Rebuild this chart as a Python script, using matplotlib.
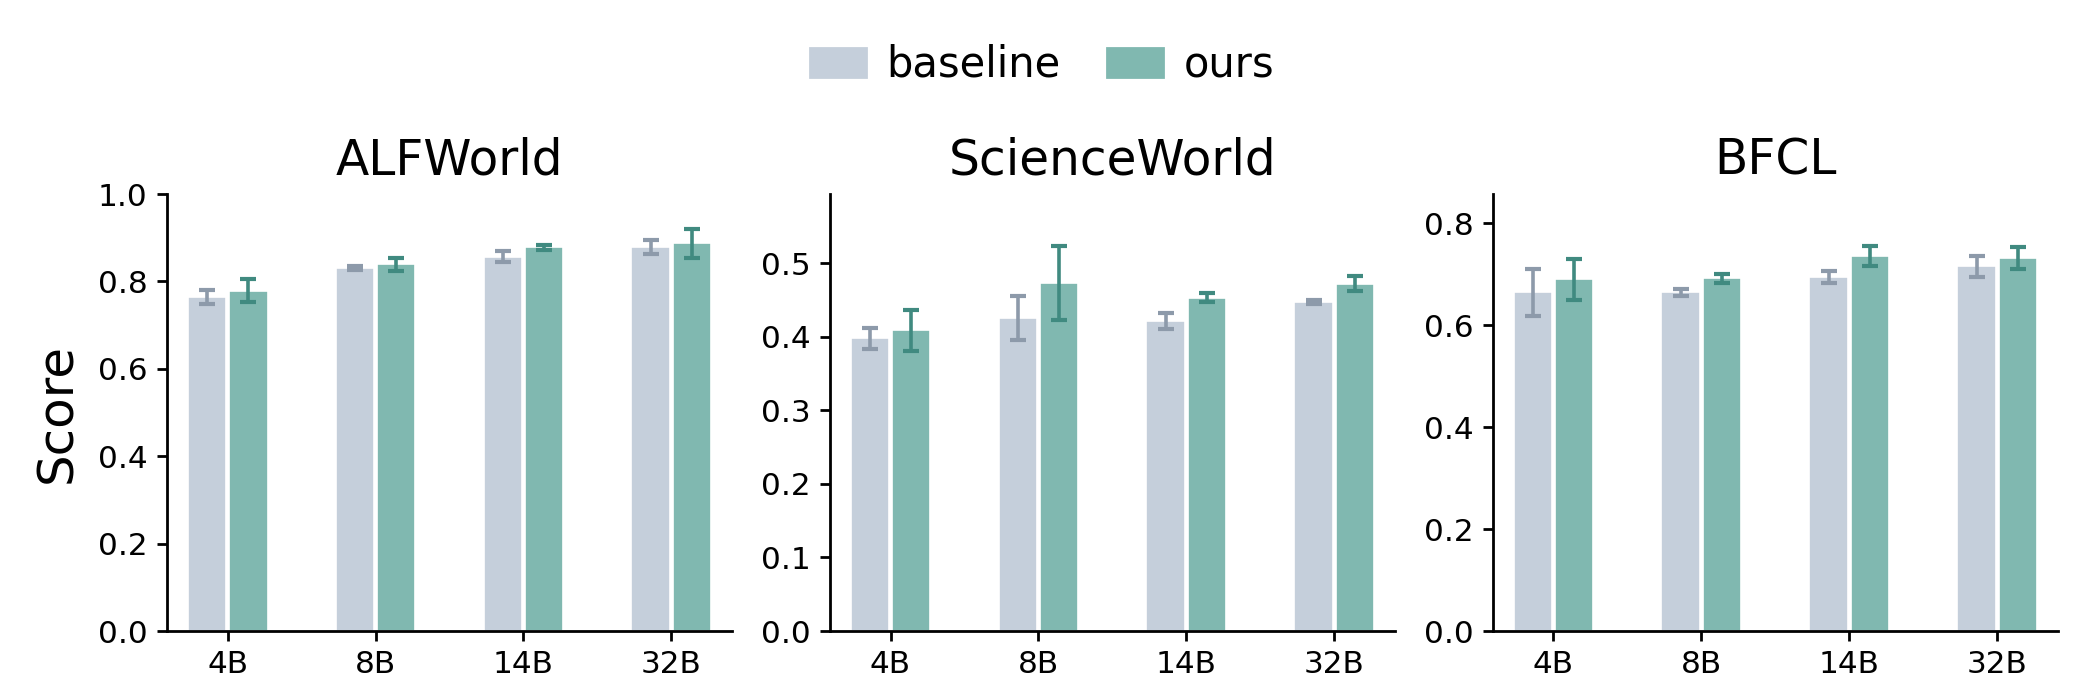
import numpy as np
import matplotlib
matplotlib.use("Agg")
import matplotlib.pyplot as plt
from matplotlib.patches import Patch

# data
sizes = ["4B", "8B", "14B", "32B"]
benchmarks = ["ALFWorld", "ScienceWorld", "BFCL"]

baseline_mean = [
    [0.764, 0.831, 0.857, 0.879],
    [0.398, 0.425, 0.422, 0.447],
    [0.664, 0.664, 0.694, 0.715],
]
baseline_err = [
    [0.016, 0.005, 0.012, 0.015],
    [0.014, 0.030, 0.011, 0.003],
    [0.047, 0.007, 0.012, 0.020],
]
ours_mean = [
    [0.779, 0.839, 0.878, 0.887],
    [0.409, 0.473, 0.453, 0.472],
    [0.690, 0.692, 0.735, 0.732],
]
ours_err = [
    [0.026, 0.015, 0.006, 0.033],
    [0.028, 0.050, 0.006, 0.010],
    [0.040, 0.009, 0.020, 0.022],
]
y_top = [1.0, 0.594, 0.857]

c_base, c_ours = "#c5cfdb", "#80b8b0"
e_base, e_ours = "#8d9aaa", "#408a80"

fig, axes = plt.subplots(1, 3, figsize=(10.42, 3.405), dpi=200)
fig.subplots_adjust(left=0.0801, right=0.9875, bottom=0.0734, top=0.715, wspace=0.173)

x = np.arange(len(sizes))
w = 0.26
for i, ax in enumerate(axes):
    ax.bar(x - 0.14, baseline_mean[i], w, color=c_base, edgecolor="white", linewidth=0.6,
           yerr=baseline_err[i], error_kw=dict(ecolor=e_base, elinewidth=1.3, capsize=3, capthick=1.5))
    ax.bar(x + 0.14, ours_mean[i], w, color=c_ours, edgecolor="white", linewidth=0.6,
           yerr=ours_err[i], error_kw=dict(ecolor=e_ours, elinewidth=1.3, capsize=3, capthick=1.5))
    ax.set_xticks(x)
    ax.set_xticklabels(sizes)
    ax.set_xlim(-0.41, 3.41)
    ax.set_ylim(0, y_top[i])
    ax.set_title(benchmarks[i], fontsize=17.5, pad=7)
    ax.tick_params(labelsize=11.2, width=1.0)
    ax.spines["top"].set_visible(False)
    ax.spines["right"].set_visible(False)
    ax.spines["left"].set_linewidth(1.0)
    ax.spines["bottom"].set_linewidth(1.0)

axes[0].set_ylabel("Score", fontsize=18, labelpad=6)

handles = [Patch(color=c_base, label="baseline"), Patch(color=c_ours, label="ours")]
fig.legend(handles=handles, loc="center", bbox_to_anchor=(0.5, 0.905), ncol=2, frameon=False,
           fontsize=15, handlelength=1.35, handletextpad=0.5, columnspacing=1.1)

fig.savefig("out.png", dpi=200)
